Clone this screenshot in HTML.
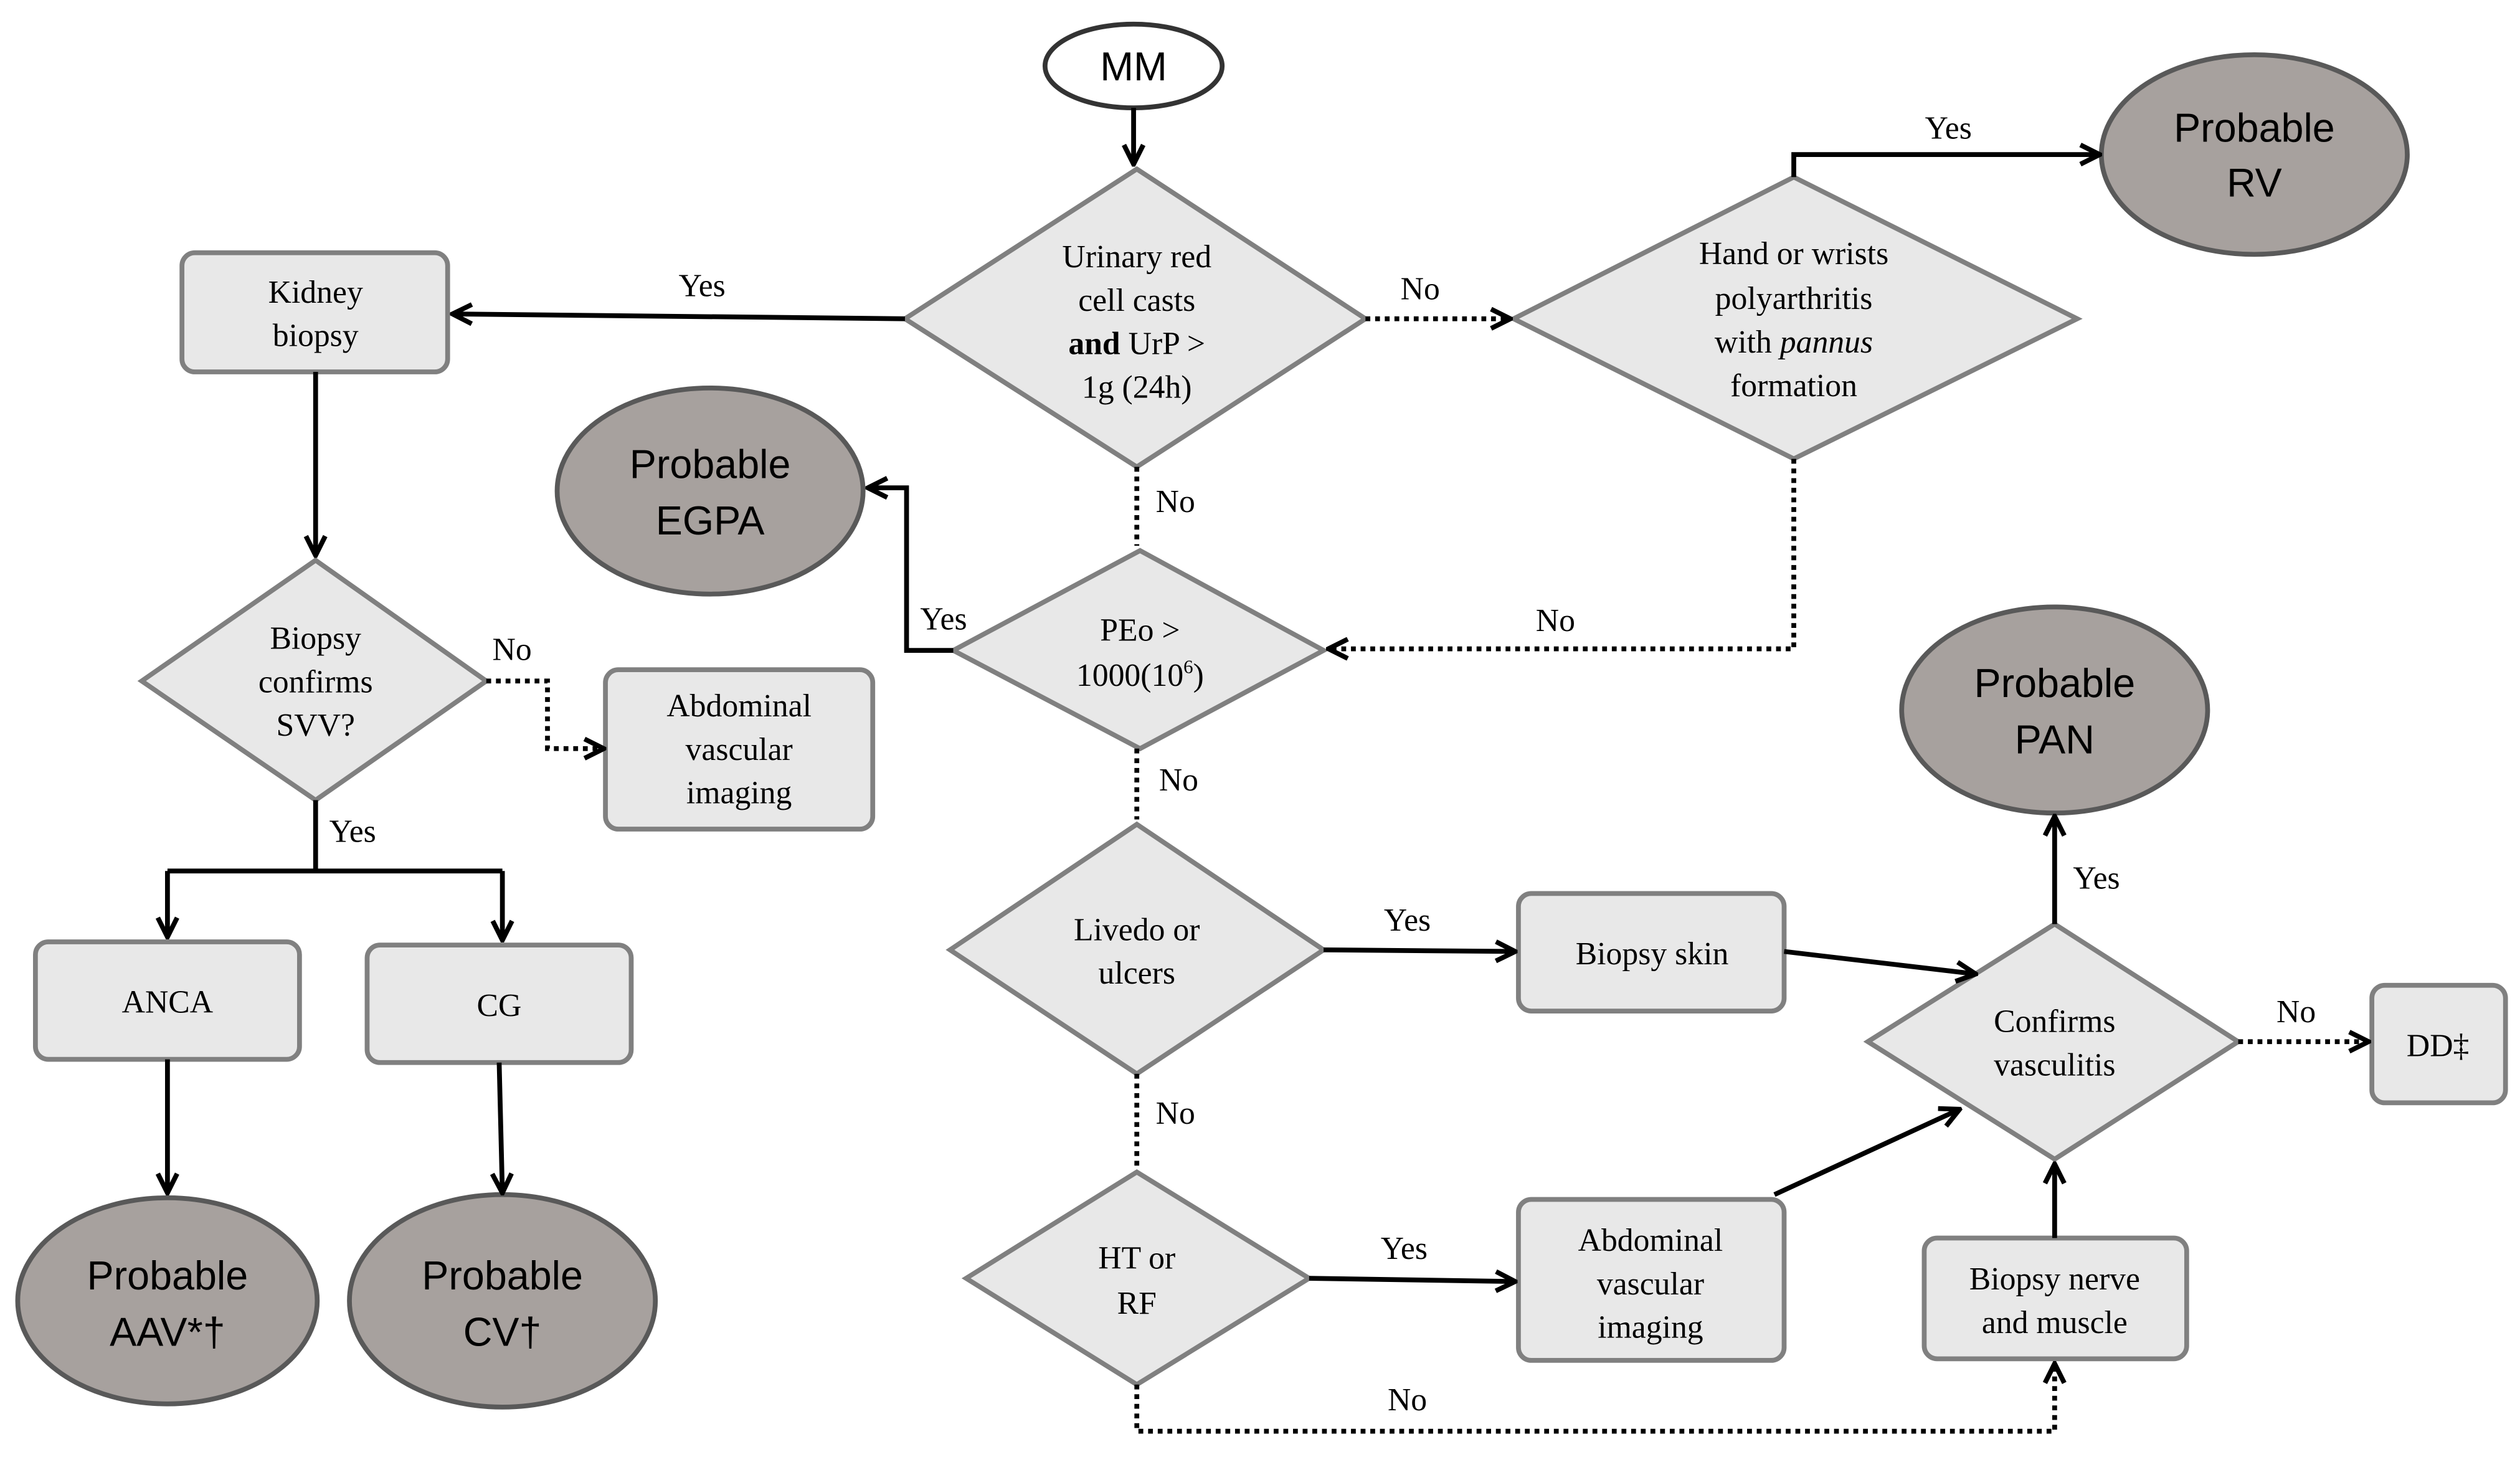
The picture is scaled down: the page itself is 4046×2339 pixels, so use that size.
<!DOCTYPE html>
<html><head><meta charset="utf-8"><style>html,body{margin:0;padding:0;background:#fff}svg{display:block}
.b{fill:#e8e8e8;stroke:#808080;stroke-width:3}
.e{fill:#a7a19e;stroke:#595959;stroke-width:3}
.l{fill:none;stroke:#000;stroke-width:3}
.d{fill:none;stroke:#000;stroke-width:3;stroke-dasharray:3,3}
text.t{font-family:'Liberation Serif','DejaVu Serif','Times New Roman',serif;font-size:20px;text-anchor:middle;fill:#000}
text.s{font-family:'Liberation Sans','DejaVu Sans',Arial,sans-serif;font-size:25px;text-anchor:middle;fill:#000}
</style></head>
<body>
<svg width="4046" height="2339" viewBox="0 0 1565 905" preserveAspectRatio="none" xmlns="http://www.w3.org/2000/svg">
<defs>
<marker id="a" viewBox="0 0 10 10" refX="9" refY="5" markerWidth="5" markerHeight="5" orient="auto" markerUnits="strokeWidth"><path d="M1,1 L9,5 L1,9" fill="none" stroke="#000" stroke-width="2"/></marker>
</defs>
<ellipse cx="704" cy="41" rx="55" ry="26" fill="#fff" stroke="#333" stroke-width="3"/>
<text class="s" x="704" y="50">MM</text>
<path class="l" d="M704 67 V102" marker-end="url(#a)"/>
<polygon class="b" points="562,198 706,105 848,198 706,290"/>
<polygon class="b" points="940,198 1114,110 1290,198 1114,285"/>
<polygon class="b" points="592,404 708,342 822,404 708,465"/>
<polygon class="b" points="88,423 196,348 302,423 196,497"/>
<polygon class="b" points="590,590 706,512 822,590 706,667"/>
<polygon class="b" points="1160,647 1276,574 1390,647 1276,720"/>
<polygon class="b" points="600,794 706,728 813,794 706,860"/>
<rect class="b" x="113" y="157" width="165" height="74" rx="8"/>
<rect class="b" x="376" y="416" width="166" height="99" rx="8"/>
<rect class="b" x="22" y="585" width="164" height="73" rx="8"/>
<rect class="b" x="228" y="587" width="164" height="73" rx="8"/>
<rect class="b" x="943" y="555" width="165" height="73" rx="8"/>
<rect class="b" x="1473" y="612" width="83" height="73" rx="8"/>
<rect class="b" x="943" y="745" width="165" height="100" rx="8"/>
<rect class="b" x="1195" y="769" width="163" height="75" rx="8"/>
<ellipse class="e" cx="1400" cy="96" rx="95" ry="62"/>
<ellipse class="e" cx="441" cy="305" rx="95" ry="64"/>
<ellipse class="e" cx="1276" cy="441" rx="95" ry="64"/>
<ellipse class="e" cx="104" cy="808" rx="93" ry="64"/>
<ellipse class="e" cx="312" cy="808" rx="95" ry="66"/>
<path class="l" d="M562 198 L281 195" marker-end="url(#a)"/>
<path class="d" d="M848 198 H938" marker-end="url(#a)"/>
<path class="l" d="M1114 110 V96 H1304" marker-end="url(#a)"/>
<path class="d" d="M706 290 V339"/>
<path class="d" d="M1114 285 V403 H825" marker-end="url(#a)"/>
<path class="l" d="M592 404 H563 V303 H539" marker-end="url(#a)"/>
<path class="l" d="M196 231 V345" marker-end="url(#a)"/>
<path class="d" d="M302 423 H340 V465 H375" marker-end="url(#a)"/>
<path class="l" d="M196 497 V541 M104 541 H312"/>
<path class="l" d="M104 541 V582" marker-end="url(#a)"/>
<path class="l" d="M312 541 V584" marker-end="url(#a)"/>
<path class="l" d="M104 658 V741" marker-end="url(#a)"/>
<path class="l" d="M310 660 L312 741" marker-end="url(#a)"/>
<path class="d" d="M706 465 V509"/>
<path class="l" d="M822 590 L941 591" marker-end="url(#a)"/>
<path class="l" d="M1108 591 L1227 605" marker-end="url(#a)"/>
<path class="l" d="M1276 574 V507" marker-end="url(#a)"/>
<path class="d" d="M1390 647 H1471" marker-end="url(#a)"/>
<path class="d" d="M706 667 V725"/>
<path class="l" d="M813 794 L941 796" marker-end="url(#a)"/>
<path class="l" d="M1102 742 L1217 689" marker-end="url(#a)"/>
<path class="l" d="M1276 769 V723" marker-end="url(#a)"/>
<path class="d" d="M706 860 V889 H1276 V847" marker-end="url(#a)"/>
<text class="t" x="706" y="166">Urinary red</text>
<text class="t" x="706" y="193">cell casts</text>
<text class="t" x="706" y="220"><tspan font-weight="bold">and</tspan> UrP &gt;</text>
<text class="t" x="706" y="247">1g (24h)</text>
<text class="t" x="1114" y="164">Hand or wrists</text>
<text class="t" x="1114" y="192">polyarthritis</text>
<text class="t" x="1114" y="219">with <tspan font-style="italic">pannus</tspan></text>
<text class="t" x="1114" y="246">formation</text>
<text class="t" x="708" y="398">PEo &gt;</text>
<text class="t" x="708" y="426">1000(10<tspan font-size="12" dy="-8">6</tspan><tspan dy="8">)</tspan></text>
<text class="t" x="196" y="403">Biopsy</text>
<text class="t" x="196" y="430">confirms</text>
<text class="t" x="196" y="457">SVV?</text>
<text class="t" x="706" y="584">Livedo or</text>
<text class="t" x="706" y="611">ulcers</text>
<text class="t" x="1276" y="641">Confirms</text>
<text class="t" x="1276" y="668">vasculitis</text>
<text class="t" x="706" y="788">HT or</text>
<text class="t" x="706" y="816">RF</text>
<text class="t" x="196" y="188">Kidney</text>
<text class="t" x="196" y="215">biopsy</text>
<text class="t" x="459" y="445">Abdominal</text>
<text class="t" x="459" y="472">vascular</text>
<text class="t" x="459" y="499">imaging</text>
<text class="t" x="104" y="629">ANCA</text>
<text class="t" x="310" y="631">CG</text>
<text class="t" x="1026" y="599">Biopsy  skin</text>
<text class="t" x="1514" y="656">DD‡</text>
<text class="t" x="1025" y="777">Abdominal</text>
<text class="t" x="1025" y="804">vascular</text>
<text class="t" x="1025" y="831">imaging</text>
<text class="t" x="1276" y="801">Biopsy nerve</text>
<text class="t" x="1276" y="828">and muscle</text>
<text class="s" x="1400" y="88">Probable</text>
<text class="s" x="1400" y="122">RV</text>
<text class="s" x="441" y="297">Probable</text>
<text class="s" x="441" y="332">EGPA</text>
<text class="s" x="1276" y="433">Probable</text>
<text class="s" x="1276" y="468">PAN</text>
<text class="s" x="104" y="801">Probable</text>
<text class="s" x="104" y="836">AAV*†</text>
<text class="s" x="312" y="801">Probable</text>
<text class="s" x="312" y="836">CV†</text>
<text class="t" x="436" y="184">Yes</text>
<text class="t" x="882" y="186">No</text>
<text class="t" x="1210" y="86">Yes</text>
<text class="t" x="730" y="318">No</text>
<text class="t" x="966" y="392">No</text>
<text class="t" x="586" y="391">Yes</text>
<text class="t" x="318" y="410">No</text>
<text class="t" x="219" y="523">Yes</text>
<text class="t" x="732" y="491">No</text>
<text class="t" x="874" y="578">Yes</text>
<text class="t" x="1302" y="552">Yes</text>
<text class="t" x="1426" y="635">No</text>
<text class="t" x="730" y="698">No</text>
<text class="t" x="872" y="782">Yes</text>
<text class="t" x="874" y="876">No</text>
</svg>
</body></html>
